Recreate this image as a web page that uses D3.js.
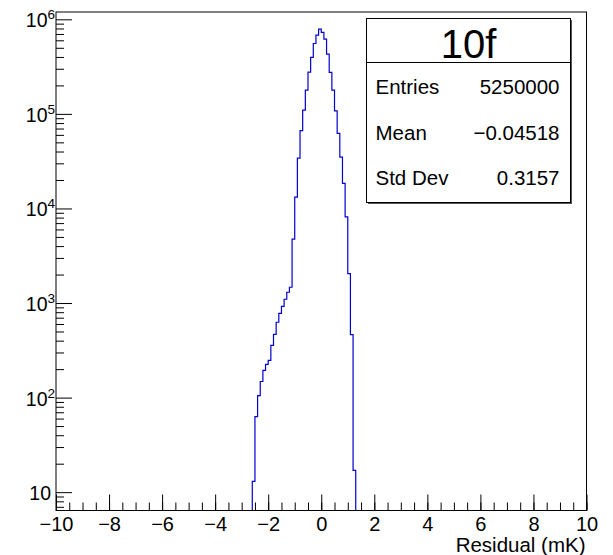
<!DOCTYPE html>
<html lang="en">
    <head>
        <meta charset="utf-8">
        <title>10f residuals</title>
        <script src="https://d3js.org/d3.v7.min.js"></script>
        <style type="text/css">
            body { margin: 0; background: white; }
            text { font-family: "Liberation Sans", Arial, sans-serif; fill: black; }
            .tick text { font-size: 20px; }
        </style>
    </head>
    <body>
        <script type="text/javascript">
            // histogram bins (lower edge, width 0.1)
            const binLow = [-2.6, -2.5, -2.4, -2.3, -2.2, -2.1, -2.0, -1.9, -1.8, -1.7,
                            -1.6, -1.5, -1.4, -1.3, -1.2, -1.1, -1.0, -0.9, -0.8, -0.7,
                            -0.6, -0.5, -0.4, -0.3, -0.2, -0.1, 0.0, 0.1, 0.2, 0.3,
                            0.4, 0.5, 0.6, 0.7, 0.8, 0.9, 1.0, 1.1, 1.2];
            const binHigh = [-2.5, -2.4, -2.3, -2.2, -2.1, -2.0, -1.9, -1.8, -1.7, -1.6,
                             -1.5, -1.4, -1.3, -1.2, -1.1, -1.0, -0.9, -0.8, -0.7, -0.6,
                             -0.5, -0.4, -0.3, -0.2, -0.1, 0.0, 0.1, 0.2, 0.3, 0.4,
                             0.5, 0.6, 0.7, 0.8, 0.9, 1.0, 1.1, 1.2, 1.3];
            const counts = [13, 63, 105, 148, 194, 225, 248, 357, 467, 626,
                            779, 924, 1096, 1300, 1469, 4730, 13160, 34000, 66500, 109700,
                            178600, 276900, 395000, 555000, 682000, 789000, 728000, 618000, 428000, 275000,
                            178600, 107700, 62100, 34900, 18400, 8150, 2050, 463, 17];

            // axes
            const xDomain = [-10, 10];
            const yDomain = [6.4, 1.195e6];
            const xMajor = [-10, -8, -6, -4, -2, 0, 2, 4, 6, 8, 10];
            const xMinor = d3.range(-10, 10.01, 0.5);
            const yDecades = [10, 100, 1000, 10000, 100000, 1000000];
            const xTitle = "Residual (mK)";

            // stats box
            const histName = "10f";
            const statNames = ["Entries", "Mean", "Std Dev"];
            const statValues = ["5250000", "\u22120.04518", "0.3157"];

            //constants
            const w = 613;
            const h = 555;
            const frame = {left: 56, right: 586.5, top: 12, bottom: 510.5};

            const x = d3.scaleLinear().domain(xDomain).range([frame.left, frame.right]);
            const y = d3.scaleLog().domain(yDomain).range([frame.bottom, frame.top]);

            const svg = d3.select("body")
                          .append("svg")
                          .attr("width", w)
                          .attr("height", h);

            //minor y ticks 2..9 per decade
            const yMinor = [];
            for (let k = 0; k <= 6; k++) {
                for (let m = 2; m <= 9; m++) {
                    const v = m * Math.pow(10, k);
                    if (v >= yDomain[0] && v <= yDomain[1]) yMinor.push(v);
                }
            }

            // x axis
            svg.append("g")
               .attr("transform", "translate(0," + frame.bottom + ")")
               .call(d3.axisBottom(x).tickValues(xMinor).tickSize(-8).tickFormat(""))
               .call(g => g.select(".domain").remove());
            svg.append("g")
               .attr("transform", "translate(0," + frame.bottom + ")")
               .call(d3.axisBottom(x).tickValues(xMajor).tickSize(-16).tickPadding(4)
                       .tickFormat(d3.format("d")))
               .call(g => g.select(".domain").remove())
               .call(g => g.selectAll(".tick text").attr("dy", "0.83em"));

            // y axis
            svg.append("g")
               .attr("transform", "translate(" + frame.left + ",0)")
               .call(d3.axisLeft(y).tickValues(yMinor).tickSize(-8).tickFormat(""))
               .call(g => g.select(".domain").remove());
            svg.append("g")
               .attr("transform", "translate(" + frame.left + ",0)")
               .call(d3.axisLeft(y).tickValues(yDecades).tickSize(-16).tickFormat(""))
               .call(g => g.select(".domain").remove());

            // y labels with superscript
            yDecades.forEach(v => {
                const k = Math.round(Math.log10(v));
                const t = svg.append("text")
                    .attr("text-anchor", "end")
                    .attr("font-size", "19.5px");
                if (k === 1) {
                    t.attr("x", frame.left - 5).attr("y", y(v) + 8).text("10");
                } else {
                    t.attr("x", frame.left - 1).attr("y", y(v) + 8);
                    t.append("tspan").text("10");
                    t.append("tspan").attr("font-size", "13.5px").attr("dy", -8).text(k);
                }
            });

            // histogram outline
            const pts = [[binLow[0], yDomain[0]]];
            counts.forEach((c, i) => {
                pts.push([binLow[i], c]);
                pts.push([binHigh[i], c]);
            });
            pts.push([binHigh[binHigh.length - 1], yDomain[0]]);

            const line = d3.line()
                           .x(d => x(d[0]))
                           .y(d => y(d[1]));

            svg.append("path")
               .attr("d", line(pts))
               .attr("fill", "none")
               .attr("stroke", "#0000d0")
               .attr("stroke-width", 1.2);

            // frame
            svg.append("rect")
               .attr("x", frame.left)
               .attr("y", frame.top)
               .attr("width", frame.right - frame.left)
               .attr("height", frame.bottom - frame.top)
               .attr("fill", "none")
               .attr("stroke", "black")
               .attr("stroke-width", 1);

            // x title
            svg.append("text")
               .attr("x", frame.right - 1)
               .attr("y", 552)
               .attr("text-anchor", "end")
               .attr("font-size", "20.5px")
               .text(xTitle);

            // stats box
            const box = {x: 366.5, y: 18.5, w: 204, h: 184, split: 62.5};
            svg.append("rect")
               .attr("x", box.x + 1.5).attr("y", box.y + 1.5)
               .attr("width", box.w).attr("height", box.h)
               .attr("fill", "#555");
            svg.append("rect")
               .attr("x", box.x).attr("y", box.y)
               .attr("width", box.w).attr("height", box.h)
               .attr("fill", "white")
               .attr("stroke", "black");
            svg.append("line")
               .attr("x1", box.x).attr("x2", box.x + box.w)
               .attr("y1", box.split).attr("y2", box.split)
               .attr("stroke", "black");
            svg.append("text")
               .attr("x", box.x + box.w / 2)
               .attr("y", 57.5)
               .attr("text-anchor", "middle")
               .attr("font-size", "40px")
               .text(histName);

            const rowY = [94, 139.5, 185];
            svg.selectAll("text.sname")
               .data(statNames)
               .enter()
               .append("text")
               .attr("class", "sname")
               .attr("x", box.x + 9)
               .attr("y", (d, i) => rowY[i])
               .attr("font-size", "20.5px")
               .text(d => d);
            svg.selectAll("text.sval")
               .data(statValues)
               .enter()
               .append("text")
               .attr("class", "sval")
               .attr("x", box.x + box.w - 11)
               .attr("y", (d, i) => rowY[i])
               .attr("text-anchor", "end")
               .attr("font-size", "20.5px")
               .text(d => d);
        </script>
    </body>
</html>
